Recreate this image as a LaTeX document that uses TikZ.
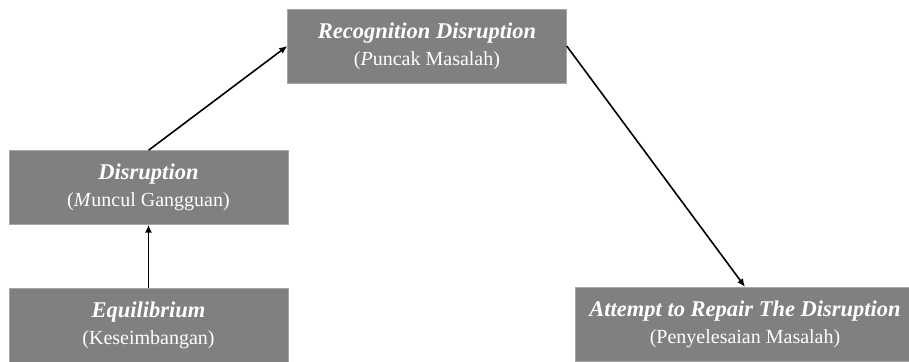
\documentclass[tikz,border=0pt]{standalone}
\usepackage{fontspec}
\setmainfont{Liberation Serif}
\usetikzlibrary{arrows.meta}

\begin{document}
\begin{tikzpicture}[
  x=1pt, y=-1pt,
  stage/.style={
    fill=black!50, draw=black!35,
    minimum width=279pt, minimum height=74pt,
    text=white, align=center, inner sep=0pt,
    font=\fontsize{22.5}{27}\selectfont,
  },
  flow/.style={black, line width=1.6pt, -{Latex[length=8pt,width=7pt]}},
]

\clip (0,0) rectangle (909,361);

% ── stages ───────────────────────────────────────────────
\node[stage] (equi) at (148.5, 325) {%
  {\bfseries\itshape Equilibrium}\\
  {\fontsize{20}{27}\selectfont (Keseimbangan)}};
\node[stage] (disr) at (148.5, 187.5) {%
  {\bfseries\itshape Disruption}\\
  {\fontsize{20}{27}\selectfont (\textit{M}uncul Gangguan)}};
\node[stage] (reco) at (427, 46) {%
  {\bfseries\itshape Recognition Disruption}\\
  {\fontsize{20}{27}\selectfont (\textit{P}uncak Masalah)}};
\node[stage, minimum width=340pt] (repair) at (745, 324) {%
  {\bfseries\itshape Attempt to Repair The Disruption}\\
  {\fontsize{20}{27}\selectfont (Penyelesaian Masalah)}};

% ── connectors ───────────────────────────────────────────
\draw[flow] (equi.north) -- (disr.south);
\draw[flow] (disr.north) -- (reco.west);
\draw[flow] (reco.east) -- (repair.north);

\end{tikzpicture}
\end{document}
